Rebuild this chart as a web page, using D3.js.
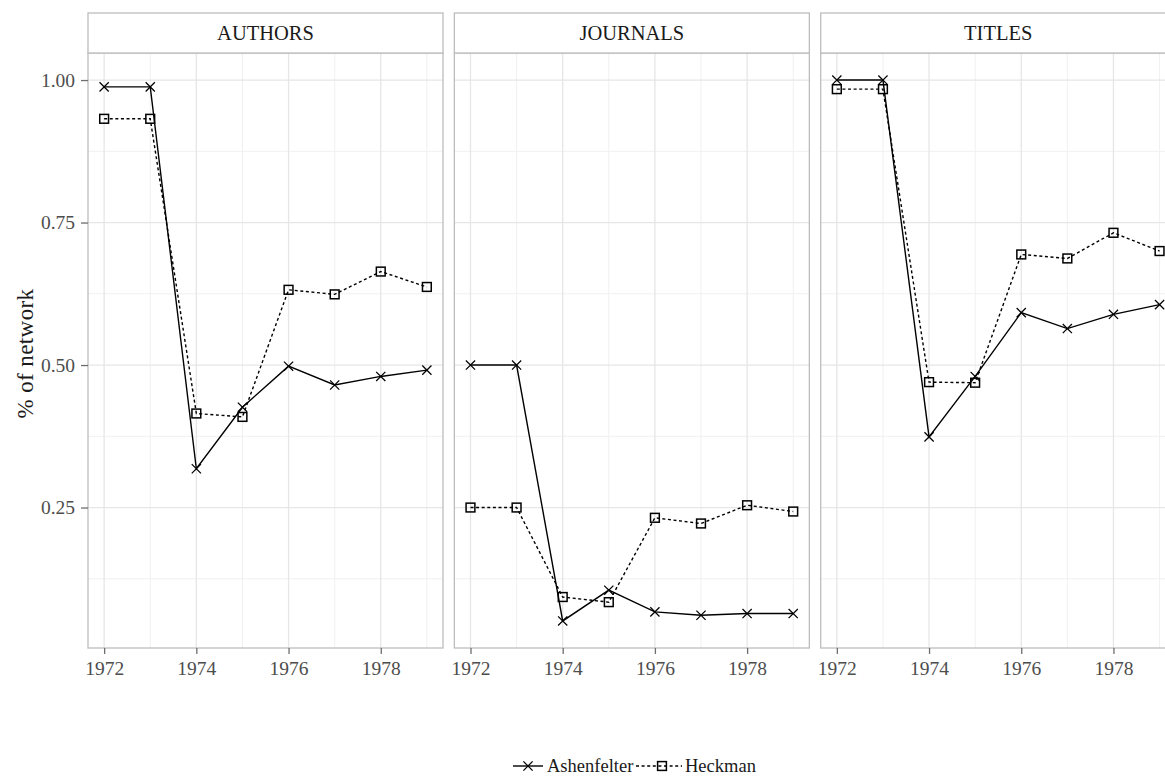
<!DOCTYPE html>
<html>
<head>
<meta charset="utf-8">
<script src="https://cdn.jsdelivr.net/npm/d3@7"></script>
<style>
  html, body { margin: 0; padding: 0; background: #fff; overflow: hidden; }
  svg { display: block; }
  text { font-family: "Liberation Serif", "Times New Roman", serif; }
</style>
</head>
<body>
<svg id="chart" width="1165" height="778"></svg>
<script>
// Share of the network, by year, for each facet and author
const years = [1972, 1973, 1974, 1975, 1976, 1977, 1978, 1979];
const facets = ["AUTHORS", "JOURNALS", "TITLES"];
const seriesNames = ["Ashenfelter", "Heckman"];

const ashenfelterAuthors  = [0.988, 0.988, 0.318, 0.426, 0.498, 0.465, 0.480, 0.491];
const heckmanAuthors      = [0.932, 0.932, 0.415, 0.409, 0.632, 0.624, 0.664, 0.637];
const ashenfelterJournals = [0.500, 0.500, 0.051, 0.105, 0.067, 0.061, 0.064, 0.064];
const heckmanJournals     = [0.250, 0.250, 0.093, 0.084, 0.232, 0.222, 0.254, 0.243];
const ashenfelterTitles   = [1.000, 1.000, 0.374, 0.480, 0.592, 0.564, 0.589, 0.606];
const heckmanTitles       = [0.984, 0.984, 0.470, 0.469, 0.694, 0.687, 0.732, 0.700];

const yTicks = [0.25, 0.50, 0.75, 1.00];
const yMinor = [0.125, 0.375, 0.625, 0.875];
const xTicks = [1972, 1974, 1976, 1978];

const facetData = [
  [ashenfelterAuthors, heckmanAuthors],
  [ashenfelterJournals, heckmanJournals],
  [ashenfelterTitles, heckmanTitles]
];

// Layout
const panelLeft0 = 88, panelPitch = 366.35, panelW = 355;
const stripTop = 13, stripH = 40;
const panelTop = stripTop + stripH, panelBottom = 648;

const svg = d3.select("#chart");

// Shared scales (5% expansion on both axes)
const allVals = facetData.flat(2);
const [vmin, vmax] = d3.extent(allVals);
const vpad = (vmax - vmin) * 0.05;
const y = d3.scaleLinear().domain([vmin - vpad, vmax + vpad]).range([panelBottom, panelTop]);
const [ymin, ymax] = d3.extent(years);
const xpad = (ymax - ymin) * 0.05;
const x = d3.scaleLinear().domain([ymin - xpad, ymax + xpad]).range([0, panelW]);

const gridMajor = "#e6e6e6", gridMinor = "#f0f0f0", borderCol = "#bdbdbd";
const tickCol = "#6e6e6e", labelCol = "#4d4d4d";
const dash = "3,2.6";

const lineGen = d3.line().x((d, i) => x(years[i])).y(d => y(d));

function drawX(g, cx, cy, r) {
  g.append("path")
    .attr("d", `M${cx - r},${cy - r}L${cx + r},${cy + r}M${cx - r},${cy + r}L${cx + r},${cy - r}`)
    .attr("stroke", "#000").attr("stroke-width", 1.25).attr("fill", "none");
}
function drawSquare(g, cx, cy, r) {
  g.append("rect")
    .attr("x", cx - r).attr("y", cy - r).attr("width", 2 * r).attr("height", 2 * r)
    .attr("stroke", "#000").attr("stroke-width", 1.5).attr("fill", "none");
}

facets.forEach((name, fi) => {
  const left = panelLeft0 + fi * panelPitch;
  const g = svg.append("g").attr("transform", `translate(${left},0)`);

  // panel background + grid
  g.append("rect").attr("x", 0).attr("y", panelTop).attr("width", panelW)
    .attr("height", panelBottom - panelTop).attr("fill", "#fff");

  const xMinor = years.filter(v => !xTicks.includes(v));
  g.selectAll(".ymin").data(yMinor).join("line")
    .attr("x1", 0).attr("x2", panelW).attr("y1", d => y(d)).attr("y2", d => y(d))
    .attr("stroke", gridMinor).attr("stroke-width", 1);
  g.selectAll(".xmin").data(xMinor).join("line")
    .attr("y1", panelTop).attr("y2", panelBottom).attr("x1", d => x(d)).attr("x2", d => x(d))
    .attr("stroke", gridMinor).attr("stroke-width", 1);
  g.selectAll(".ymaj").data(yTicks).join("line")
    .attr("x1", 0).attr("x2", panelW).attr("y1", d => y(d)).attr("y2", d => y(d))
    .attr("stroke", gridMajor).attr("stroke-width", 1.3);
  g.selectAll(".xmaj").data(xTicks).join("line")
    .attr("y1", panelTop).attr("y2", panelBottom).attr("x1", d => x(d)).attr("x2", d => x(d))
    .attr("stroke", gridMajor).attr("stroke-width", 1.3);

  // series
  const [ash, hec] = facetData[fi];
  g.append("path").datum(hec).attr("d", lineGen)
    .attr("fill", "none").attr("stroke", "#000").attr("stroke-width", 1.4)
    .attr("stroke-dasharray", dash);
  g.append("path").datum(ash).attr("d", lineGen)
    .attr("fill", "none").attr("stroke", "#000").attr("stroke-width", 1.4);
  ash.forEach((v, i) => drawX(g, x(years[i]), y(v), 4.6));
  hec.forEach((v, i) => drawSquare(g, x(years[i]), y(v), 4.4));

  // panel border
  g.append("rect").attr("x", 0).attr("y", panelTop).attr("width", panelW)
    .attr("height", panelBottom - panelTop).attr("fill", "none")
    .attr("stroke", borderCol).attr("stroke-width", 1.3);

  // strip
  g.append("rect").attr("x", 0).attr("y", stripTop).attr("width", panelW).attr("height", stripH)
    .attr("fill", "#fff").attr("stroke", borderCol).attr("stroke-width", 1.3);
  g.append("text").attr("x", panelW / 2).attr("y", stripTop + stripH / 2)
    .attr("text-anchor", "middle").attr("dominant-baseline", "central")
    .attr("font-size", 20.5).attr("fill", "#1a1a1a").text(name);

  // x axis
  const xa = g.append("g").attr("transform", `translate(0,${panelBottom})`)
    .call(d3.axisBottom(x).tickValues(xTicks).tickFormat(d3.format("d")).tickSize(6).tickPadding(7));
  xa.select(".domain").remove();
  xa.selectAll("line").attr("stroke", tickCol).attr("stroke-width", 1.3);
  xa.selectAll("text").attr("font-size", 19.5).attr("fill", labelCol)
    .attr("font-family", "Liberation Serif, serif");

  // y axis on first panel only
  if (fi === 0) {
    const ya = g.append("g")
      .call(d3.axisLeft(y).tickValues(yTicks).tickFormat(d3.format(".2f")).tickSize(7).tickPadding(6));
    ya.select(".domain").remove();
    ya.selectAll("line").attr("stroke", tickCol).attr("stroke-width", 1.3);
    ya.selectAll("text").attr("font-size", 19.5).attr("fill", labelCol)
      .attr("font-family", "Liberation Serif, serif");
  }
});

// y axis title
svg.append("text")
  .attr("transform", `translate(25,${(panelTop + panelBottom) / 2 + 3}) rotate(-90)`)
  .attr("text-anchor", "middle").attr("dominant-baseline", "central")
  .attr("font-size", 23).attr("letter-spacing", 0.4).attr("fill", "#1a1a1a").text("% of network");

// legend
const legend = svg.append("g").attr("transform", "translate(0,766)");
const items = [
  { name: seriesNames[0], x0: 513, w: 30, tx: 547 },
  { name: seriesNames[1], x0: 636, w: 46, tx: 685 }
];
items.forEach((it, i) => {
  const k = legend.append("g");
  k.append("line").attr("x1", it.x0).attr("x2", it.x0 + it.w).attr("y1", 0).attr("y2", 0)
    .attr("stroke", "#000").attr("stroke-width", 1.4)
    .attr("stroke-dasharray", i === 1 ? dash : null);
  if (i === 0) drawX(k, it.x0 + it.w / 2, 0, 4.6);
  else drawSquare(k, it.x0 + it.w / 2 + 3, 0, 4.4);
  k.append("text").attr("x", it.tx).attr("y", 0)
    .attr("dominant-baseline", "central").attr("font-size", 18.5).attr("fill", "#1a1a1a")
    .text(it.name);
});
</script>
</body>
</html>
